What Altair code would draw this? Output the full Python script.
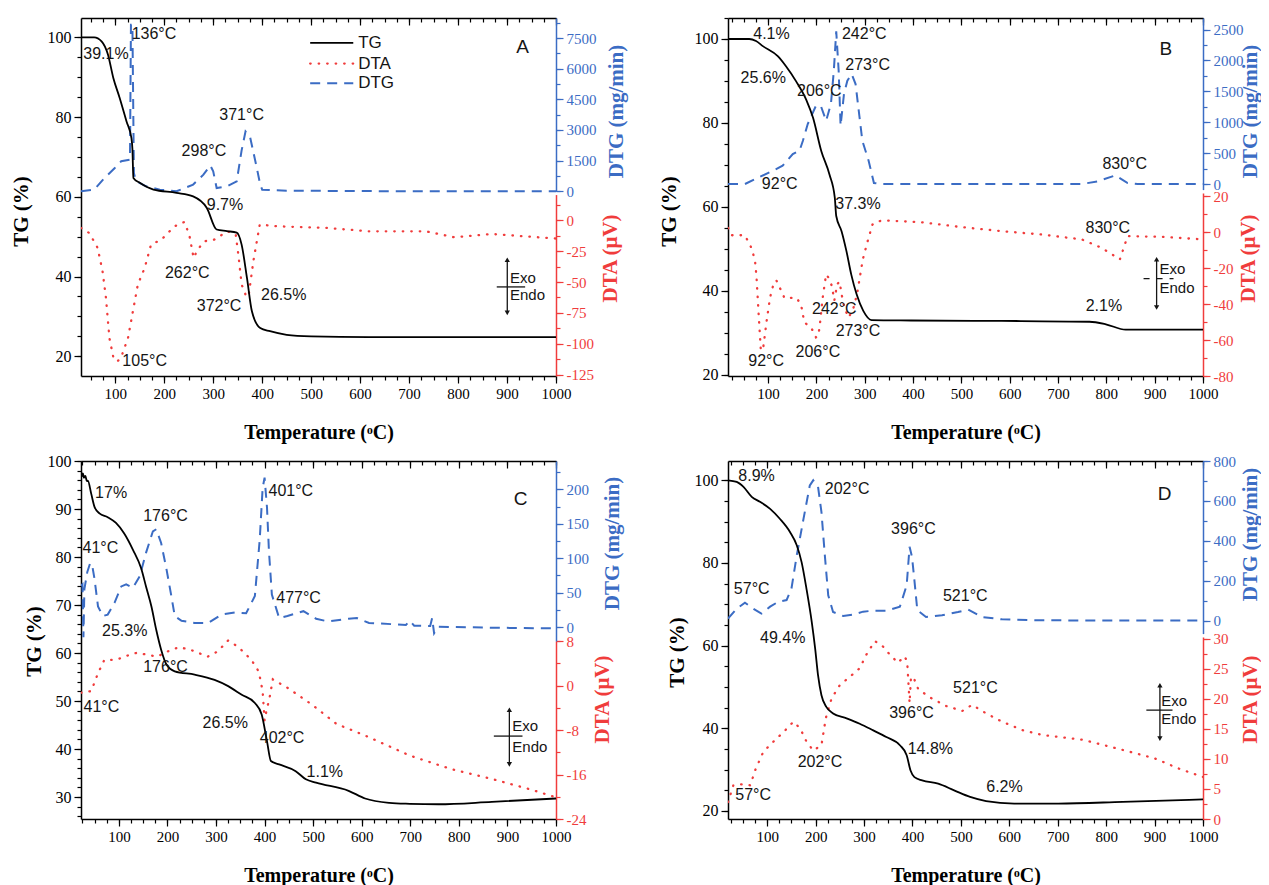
import math
import altair as alt
import pandas as pd

# ======================= data =======================
# ---- Panel A ----
A_TG_T = [30, 57, 72, 85, 96, 109, 123, 133, 135, 137, 150, 178, 225, 259, 287, 307, 328, 348, 358, 369,
          379, 396, 416, 450, 500, 617, 1000]
A_TG = [100, 100, 99.0, 95.7, 89.8, 84.8, 78.9, 74.7, 72.0, 64.7, 63.5, 61.8, 61.0, 60.1, 57.2, 51.8, 51.4, 51.0, 48.0, 39.6,
        31.3, 27.1, 26.3, 25.4, 25.0, 24.8, 24.8]
A_DTG_T = [30, 57, 78, 99, 112, 130, 132, 135, 138, 141, 145, 163, 191, 225, 259, 280, 294, 300, 307, 328,
           348, 358, 366, 375, 389, 396, 400, 450, 700, 1000]
A_DTG = [0, 80, 650, 1140, 1470, 1550, 8150, 8150, 900, 600, 470, 245, 80, 0, 330, 815, 1270, 980, 160, 245,
         490, 2000, 2930, 2690, 1140, 330, 80, 30, 0, 0]
A_DTA_T = [30, 47, 64, 74, 81, 88, 97, 105, 112, 126, 136, 146, 160, 173, 194, 221, 241, 251, 260, 268,
           282, 302, 329, 346, 352, 358, 366, 372, 382, 395, 433, 533, 617, 734, 793, 869, 1000]
A_DTA = [-6.2, -10.3, -22.4, -41.3, -62.9, -95.3, -112.9, -114, -111, -95.3, -73.7, -52.1, -38.6, -19.7, -15.7, -4.9,
         -1.4, -11.6, -30.5, -23.8, -17, -15.7, -8.9, -11.6, -30, -52, -60.2, -62, -33, -3.5, -4.9, -6.2, -8.9, -8.9,
         -13.8, -11.1, -14.8]
A_LABELS = ["136°C", "39.1%", "371°C", "298°C", "9.7%", "262°C", "372°C", "26.5%", "105°C"]
A_LX = [179, 81, 358, 281, 324, 247, 312, 444, 160]
A_LY = [100.8, 95.7, 80.4, 71.6, 58.0, 40.8, 32.5, 35.3, 18.9]
LEGEND_NAMES = ["TG", "DTA", "DTG"]
LEGEND_Y = [98.6, 93.4, 88.5]

# ---- Panel B ----
B_TG_T = [17, 61, 75, 89, 120, 137, 158, 179, 193, 210, 227, 238, 241, 252, 262, 272, 283, 297, 314, 396,
          583, 765, 799, 840, 1000]
B_TG = [100, 100, 99.5, 98.3, 95.9, 93.5, 89.9, 85.5, 81.2, 73.3, 67.7, 62.2, 57.8, 54.2, 49.5, 43.9, 39.2, 35.2, 33.0,
        32.9, 32.8, 32.6, 32.0, 30.7, 30.7]
B_DTG_T = [17, 52, 80, 107, 130, 151, 165, 172, 182, 199, 209, 220, 230, 236, 241, 246, 250, 257, 264, 273,
           281, 295, 308, 319, 336, 749, 782, 819, 844, 865, 1000]
B_DTG = [0, 0, 107, 204, 296, 486, 540, 701, 971, 1268, 1268, 1025, 1295, 1834, 2471, 1834, 944, 1457, 1672, 1781,
         1619, 701, 378, 16, 0, 0, 43, 141, 16, 0, 0]
B_DTA_T = [17, 25, 52, 66, 73, 76, 80, 85, 90, 97, 104, 111, 117, 124, 134, 158, 168, 175, 189, 199,
           204, 208, 213, 220, 225, 232, 237, 243, 248, 252, 258, 266, 275, 284, 296, 306, 316, 327, 344, 418,
           501, 583, 666, 749, 790, 828, 844, 915, 1000]
B_DTA = [2.4, -1.7, -1.7, -9, -16, -25, -43.8, -65.9, -64, -49.3, -36.4, -29, -26.8, -30.8, -36.7, -36.4, -40, -50.2,
         -53, -58.5, -57.7, -49.3, -36.4, -23.5, -25.3, -29.9, -38, -28.9, -27.5, -34.5, -41.9, -47.5, -43.8, -34.5,
         -15.1, -5, 4.3, 6.1, 6.5, 5.5, 2.8, 0.6, -1.3, -4, -8.7, -15.1, -2.2, -2.6, -4]
B_LABELS = ["4.1%", "242°C", "273°C", "25.6%", "206°C", "92°C", "37.3%", "830°C", "830°C", "242°C", "273°C",
            "206°C", "92°C", "2.1%"]
B_LX = [107, 299, 306, 90, 206, 124, 286, 838, 803, 237, 286, 203, 96, 795]
B_LY = [101.2, 101.1, 93.7, 90.7, 87.6, 65.5, 60.6, 70.1, 55.0, 35.7, 30.3, 25.5, 23.3, 36.4]

# ---- Panel C ----
C_TG_T = [22, 24, 26, 28, 31, 34, 36, 43, 50, 60, 77, 94, 111, 129, 146, 156, 167, 177, 187, 198,
          215, 256, 297, 325, 353, 380, 394, 405, 413, 430, 464, 485, 506, 573, 607, 657, 699, 758, 868, 1000]
C_TG = [98.0, 96.8, 97.4, 96.5, 96.9, 95.8, 95.9, 93.2, 90.4, 89.1, 88.3, 87.1, 84.9, 81.5, 77.6, 73.8, 69.7, 64.8,
        60.7, 57.6, 56.2, 55.5, 54.4, 53.1, 51.3, 49.6, 47.2, 41.6, 37.5, 36.8, 35.4, 33.7, 33.0, 31.3, 29.7, 28.8,
        28.6, 28.5, 29.0, 29.7]
C_DTG_T = [22, 25, 27, 29, 35, 41, 45, 50, 57, 67, 77, 91, 105, 115, 129, 143, 156, 170, 177, 187,
           198, 208, 215, 229, 256, 284, 311, 339, 362, 380, 390, 396, 400, 405, 409, 415, 430, 447, 480, 506,
           531, 573, 590, 615, 691, 699, 708, 741, 745, 749, 757, 868, 1000]
C_DTG = [60, 62, -15, 55, 80, 93, 90, 69, 30, 16, 18, 35, 59, 62, 57, 74, 108, 139, 142, 122,
         84, 45, 16, 9, 6, 6, 18, 21, 20, 45, 127, 202, 217, 173, 110, 47, 13, 16, 23, 12,
         8, 12, 13, 6, 3, 9, 2, 1.5, 13, -9, 0.5, -1, -2]
C_DTA_T = [22, 43, 57, 70, 91, 108, 121, 138, 159, 179, 200, 224, 248, 283, 303, 325, 345, 373, 388, 396,
           400, 405, 409, 417, 447, 497, 548, 615, 699, 783, 868, 952, 1000]
C_DTA = [-1.3, -1.0, 2.2, 4.6, 4.6, 5.0, 5.5, 5.9, 5.5, 5.2, 6.1, 6.9, 6.4, 5.2, 6.1, 8.1, 7.0, 4.6, 2.5, -1.0,
         -6.3, -4.0, -2.8, 1.1, -0.4, -3.4, -6.9, -9.3, -12.6, -15.0, -16.8, -18.8, -20.1]
C_LABELS = ["17%", "401°C", "176°C", "41°C", "477°C", "25.3%", "176°C", "41°C", "26.5%", "402°C", "1.1%"]
C_LX = [84, 454, 196, 62, 470, 112, 196, 64, 319, 436, 524]
C_LY = [93.4, 93.7, 88.5, 81.8, 71.4, 64.5, 57.1, 48.8, 45.4, 42.3, 35.3]

# ---- Panel D ----
D_TG_T = [19, 37, 51, 68, 85, 106, 126, 147, 161, 171, 181, 192, 199, 205, 212, 222, 236, 264, 291, 319,
          346, 374, 388, 396, 404, 420, 453, 486, 519, 552, 610, 701, 834, 1000]
D_TG = [100, 99.6, 98.4, 96.0, 94.8, 93.1, 90.7, 87.5, 84.3, 80.2, 73.8, 65.7, 59.3, 52.8, 48.0, 45.2, 43.6, 42.4,
        41.1, 39.5, 37.9, 35.9, 33.5, 29.8, 28.2, 27.4, 26.6, 25.0, 23.4, 22.4, 21.8, 21.8, 22.2, 22.8]
D_DTG_T = [19, 37, 54, 71, 88, 106, 123, 140, 150, 161, 175, 188, 195, 205, 212, 219, 226, 236, 257, 277,
           298, 319, 346, 374, 388, 394, 399, 404, 410, 428, 461, 494, 515, 544, 585, 668, 1000]
D_DTG = [10, 60, 90, 60, 35, 70, 95, 103, 160, 327, 511, 678, 703, 670, 544, 327, 127, 43, 23, 30,
         45, 50, 50, 70, 177, 370, 319, 202, 52, 18, 27, 43, 55, 18, 6.5, 1.5, 0]
D_DTA_T = [19, 30, 51, 65, 75, 92, 113, 134, 154, 168, 181, 195, 212, 221, 233, 250, 271, 291, 305, 322,
           336, 353, 370, 383, 389, 394, 397, 404, 412, 437, 470, 503, 523, 552, 585, 627, 668, 751, 834, 900,
           950, 1000]
D_DTA = [2.8, 5.6, 5.8, 5.6, 8.1, 11.2, 12.9, 14.5, 16.2, 15.1, 12.9, 11.4, 12.3, 16.8, 20.1, 22.3, 23.7, 25.1,
         27.4, 29.6, 29.0, 27.4, 26.0, 27.1, 26.3, 19.3, 23.7, 23.2, 21.6, 20.2, 18.8, 18.0, 19.0, 17.6, 16.2,
         14.8, 14.0, 13.2, 11.5, 10.1, 8.4, 7.0]
D_LABELS = ["8.9%", "202°C", "396°C", "57°C", "521°C", "49.4%", "521°C", "396°C", "14.8%", "202°C", "57°C", "6.2%"]
D_LX = [78, 265, 402, 68, 509, 132, 530, 398, 437, 209, 71, 590]
D_LY = [101.0, 97.8, 88.1, 73.8, 72.0, 61.9, 49.8, 43.7, 34.9, 31.9, 23.8, 25.7]

# ======================= layout / style =======================
W, H = 475, 358
SERIF = "Liberation Serif"
SANS = "Liberation Sans"
BLUE = "#3b6cc4"
RED = "#f03c3c"
INK = "#151515"

PANELS = [
    dict(letter="A", letter_xy=(932, 97.5), xmin=30,
         tg=[15.06, 104.84], tg_major=[20, 40, 60, 80, 100], tg_step=5,
         dtg=[0, 8479], dtg_rng=[173.3, 0], dtg_major=[0, 1500, 3000, 4500, 6000, 7500], dtg_step=750,
         dta=[-126.1, 20.8], dta_rng=[H, 176.6], dta_major=[-125, -100, -75, -50, -25, 0], dta_step=12.5,
         tg_title="TG (%)", tg_tx=-60, tg_ty=193, dtg_tx=60, dtg_ty=93, dta_tx=54, dta_ty=240,
         exo=(900.5, 44.2, 30.9, 879, 937, 37.4, 906, 39.6, 35.3), exo_dash=False,
         tg_t=A_TG_T, tg_v=A_TG, dtg_t=A_DTG_T, dtg_v=A_DTG, dta_t=A_DTA_T, dta_v=A_DTA,
         labels=A_LABELS, lx=A_LX, ly=A_LY, legend=True),
    dict(letter="B", letter_xy=(923, 97.5), xmin=17,
         tg=[19.67, 105.0], tg_major=[20, 40, 60, 80, 100], tg_step=5,
         dtg=[-90, 2688], dtg_rng=[171.6, 0], dtg_major=[0, 500, 1000, 1500, 2000, 2500], dtg_step=250,
         dta=[-80, 21.8], dta_rng=[H, 175], dta_major=[-80, -60, -40, -20, 0, 20], dta_step=10,
         tg_title="TG (%)", tg_tx=-59, tg_ty=193, dtg_tx=47, dtg_ty=93, dta_tx=45, dta_ty=240,
         exo=(904, 47.5, 36.0, 877, 939, 42.9, 910, 45.2, 40.6), exo_dash=True,
         tg_t=B_TG_T, tg_v=B_TG, dtg_t=B_DTG_T, dtg_v=B_DTG, dta_t=B_DTA_T, dta_v=B_DTA,
         labels=B_LABELS, lx=B_LX, ly=B_LY, legend=False),
    dict(letter="C", letter_xy=(927, 92.0), xmin=22,
         tg=[25.43, 100.0], tg_major=[30, 40, 50, 60, 70, 80, 90, 100], tg_step=2,
         dtg=[-20.3, 241.1], dtg_rng=[180, 0], dtg_major=[0, 50, 100, 150, 200], dtg_step=25,
         dta=[-24, 8], dta_rng=[H, 180], dta_major=[-24, -16, -8, 0, 8], dta_step=4,
         tg_title="TG  (%)", tg_tx=-47, tg_ty=180, dtg_tx=56, dtg_ty=82, dta_tx=46, dta_ty=238,
         exo=(904, 48.2, 36.8, 872, 931, 42.7, 910, 44.8, 40.5), exo_dash=False,
         tg_t=C_TG_T, tg_v=C_TG, dtg_t=C_DTG_T, dtg_v=C_DTG, dta_t=C_DTA_T, dta_v=C_DTA,
         labels=C_LABELS, lx=C_LX, ly=C_LY, legend=False),
    dict(letter="D", letter_xy=(920.5, 96.8), xmin=19,
         tg=[18.06, 104.67], tg_major=[20, 40, 60, 80, 100], tg_step=5,
         dtg=[-65, 800], dtg_rng=[172.6, 0], dtg_major=[0, 200, 400, 600, 800], dtg_step=100,
         dta=[0, 30.3], dta_rng=[H, 176], dta_major=[0, 5, 10, 15, 20, 25, 30], dta_step=2.5,
         tg_title="TG (%)", tg_tx=-51, tg_ty=191, dtg_tx=47, dtg_ty=73, dta_tx=47, dta_ty=238,
         exo=(911, 50.4, 37.5, 883, 937, 44.4, 914, 46.6, 42.2), exo_dash=False,
         tg_t=D_TG_T, tg_v=D_TG, dtg_t=D_DTG_T, dtg_v=D_DTG, dta_t=D_DTA_T, dta_v=D_DTA,
         labels=D_LABELS, lx=D_LX, ly=D_LY, legend=False),
]


def tick_values(lo, hi, step):
    a = math.ceil(lo / step - 1e-9)
    b = math.floor(hi / step + 1e-9)
    return [round(k * step, 6) for k in range(a, b + 1)]


def ax(orient, values, size, color="black", labels=False, domain=False, **kw):
    args = dict(orient=orient, values=values, tickSize=size, tickColor=color, tickWidth=1.2,
                labels=labels, domain=domain, grid=False, title=None)
    if domain:
        args.update(domainColor=color, domainWidth=1.5)
    if labels:
        args.update(labelFont=SERIF, labelColor=color, labelFontSize=15, labelPadding=3,
                    labelExpr="'' + datum.value", labelFlush=False, labelOverlap=False)
    args.update(kw)
    return alt.Axis(**args)


def title_kw(text, color, tx, ty, angle=270, size=21):
    return dict(title=text, titleFont=SERIF, titleFontSize=size, titleFontWeight="bold", titleColor=color,
                titleX=tx, titleY=ty, titleAngle=angle, titleAlign="center", titleBaseline="middle")


def make_panel(p):
    xsc = alt.Scale(domain=[p["xmin"], 1000], nice=False, zero=False)

    def sc(kind):
        if kind == "tg":
            return alt.Scale(domain=p["tg"], range=[H, 0], nice=False, zero=False)
        return alt.Scale(domain=p[kind], range=p[kind + "_rng"], nice=False, zero=False)

    def X(axis=None, field="t"):
        return alt.X(f"{field}:Q", scale=xsc, axis=axis)

    def Y(kind, axis=None, field="v"):
        return alt.Y(f"{field}:Q", scale=sc(kind), axis=axis)

    tg_df = pd.DataFrame({"t": p["tg_t"], "v": p["tg_v"]})
    dtg_df = pd.DataFrame({"t": p["dtg_t"], "v": p["dtg_v"]})
    dta_df = pd.DataFrame({"t": p["dta_t"], "v": p["dta_v"]})

    xmaj = list(range(100, 1001, 100))
    xmin_t = tick_values(p["xmin"], 1000, 25)

    bottom_major = ax("bottom", xmaj, 7, labels=True, domain=True, labelFontSize=15, labelPadding=3,
                      **title_kw("Temperature (ᵒC)", "black", W / 2, 56, angle=0, size=20))
    bottom_minor = ax("bottom", xmin_t, 4)
    top_major = ax("bottom", xmaj, 7, domain=True, offset=-H)
    top_minor = ax("bottom", xmin_t, 4, offset=-H)

    tg_major = ax("left", p["tg_major"], 7, labels=True, domain=True, labelFontSize=16,
                  **title_kw(p["tg_title"], "black", p["tg_tx"], p["tg_ty"]))
    tg_minor = ax("left", tick_values(p["tg"][0], p["tg"][1], p["tg_step"]), 4)
    dtg_major = ax("right", p["dtg_major"], 7, color=BLUE, labels=True, domain=True,
                   **title_kw("DTG (mg/min)", BLUE, p["dtg_tx"], p["dtg_ty"]))
    dtg_minor = ax("right", tick_values(0, p["dtg"][1], p["dtg_step"]), 4, color=BLUE)
    dta_major = ax("right", p["dta_major"], 7, color=RED, labels=True, domain=True,
                   **title_kw("DTA (μV)", RED, p["dta_tx"], p["dta_ty"]))
    dta_minor = ax("right", tick_values(p["dta"][0], p["dta"][1], p["dta_step"]), 4, color=RED)

    layers = []
    layers.append(alt.Chart(dta_df).mark_line(color=RED, strokeWidth=2.3, strokeDash=[0.5, 8],
                                              strokeCap="round", clip=True)
                  .encode(x=X(), y=Y("dta", dta_major)))
    layers.append(alt.Chart(dta_df).mark_line(strokeOpacity=0)
                  .encode(x=X(), y=Y("dta", dta_minor)))
    layers.append(alt.Chart(dtg_df).mark_line(color=BLUE, strokeWidth=2, strokeDash=[10, 7], clip=True)
                  .encode(x=X(top_major), y=Y("dtg", dtg_major)))
    layers.append(alt.Chart(dtg_df).mark_line(strokeOpacity=0)
                  .encode(x=X(top_minor), y=Y("dtg", dtg_minor)))
    layers.append(alt.Chart(tg_df).mark_line(color="black", strokeWidth=1.8, interpolate="monotone", clip=True)
                  .encode(x=X(bottom_major), y=Y("tg", tg_major)))
    layers.append(alt.Chart(tg_df).mark_line(strokeOpacity=0)
                  .encode(x=X(bottom_minor), y=Y("tg", tg_minor)))

    ann_df = pd.DataFrame({"t": p["lx"], "v": p["ly"], "label": p["labels"]})
    layers.append(alt.Chart(ann_df).mark_text(font=SANS, fontSize=16, color=INK, align="center",
                                              baseline="middle")
                  .encode(x=X(), y=Y("tg"), text="label:N"))
    let_df = pd.DataFrame({"t": [p["letter_xy"][0]], "v": [p["letter_xy"][1]], "label": [p["letter"]]})
    layers.append(alt.Chart(let_df).mark_text(font=SANS, fontSize=19, color=INK, align="center",
                                              baseline="middle")
                  .encode(x=X(), y=Y("tg"), text="label:N"))

    xa, ya1, ya2, xh1, xh2, yh, xt, ye, yn = p["exo"]
    layers.append(alt.Chart(pd.DataFrame({"t": [xa], "v": [ya1], "v2": [ya2]}))
                  .mark_rule(color=INK, strokeWidth=1.3)
                  .encode(x=X(), y=Y("tg"), y2="v2:Q"))
    hkw = dict(strokeDash=[6, 7]) if p["exo_dash"] else {}
    layers.append(alt.Chart(pd.DataFrame({"t": [xh1], "t2": [xh2], "v": [yh]}))
                  .mark_rule(color=INK, strokeWidth=1.3, **hkw)
                  .encode(x=X(), x2="t2:Q", y=Y("tg")))
    layers.append(alt.Chart(pd.DataFrame({"t": [xa, xa], "v": [ya1, ya2], "s": ["triangle-up", "triangle-down"]}))
                  .mark_point(filled=True, color=INK, size=28, opacity=1)
                  .encode(x=X(), y=Y("tg"), shape=alt.Shape("s:N", scale=None)))
    layers.append(alt.Chart(pd.DataFrame({"t": [xt, xt], "v": [ye, yn], "label": ["Exo", "Endo"]}))
                  .mark_text(font=SANS, fontSize=15, color=INK, align="left", baseline="middle")
                  .encode(x=X(), y=Y("tg"), text="label:N"))

    if p["legend"]:
        styles = [dict(color="black", strokeWidth=1.8),
                  dict(color=RED, strokeWidth=2.3, strokeDash=[0.5, 8], strokeCap="round"),
                  dict(color=BLUE, strokeWidth=2, strokeDash=[10, 7])]
        for yv, st in zip(LEGEND_Y, styles):
            layers.append(alt.Chart(pd.DataFrame({"t": [498], "t2": [586], "v": [yv]}))
                          .mark_rule(**st).encode(x=X(), x2="t2:Q", y=Y("tg")))
        layers.append(alt.Chart(pd.DataFrame({"t": [596] * 3, "v": LEGEND_Y, "label": LEGEND_NAMES}))
                      .mark_text(font=SANS, fontSize=17, color=INK, align="left", baseline="middle")
                      .encode(x=X(), y=Y("tg"), text="label:N"))

    return (alt.layer(*layers)
            .resolve_scale(y="independent")
            .resolve_axis(x="independent", y="independent")
            .properties(width=W, height=H))


charts = [make_panel(p) for p in PANELS]
chart = (alt.concat(*charts, columns=2, spacing={"row": 85, "column": 172}, bounds="flush")
         .properties(padding={"left": 2, "top": 9, "right": 1, "bottom": 4})
         .configure_view(strokeWidth=0))

chart.save("out.html", embed_options={"renderer": "svg", "actions": False})
